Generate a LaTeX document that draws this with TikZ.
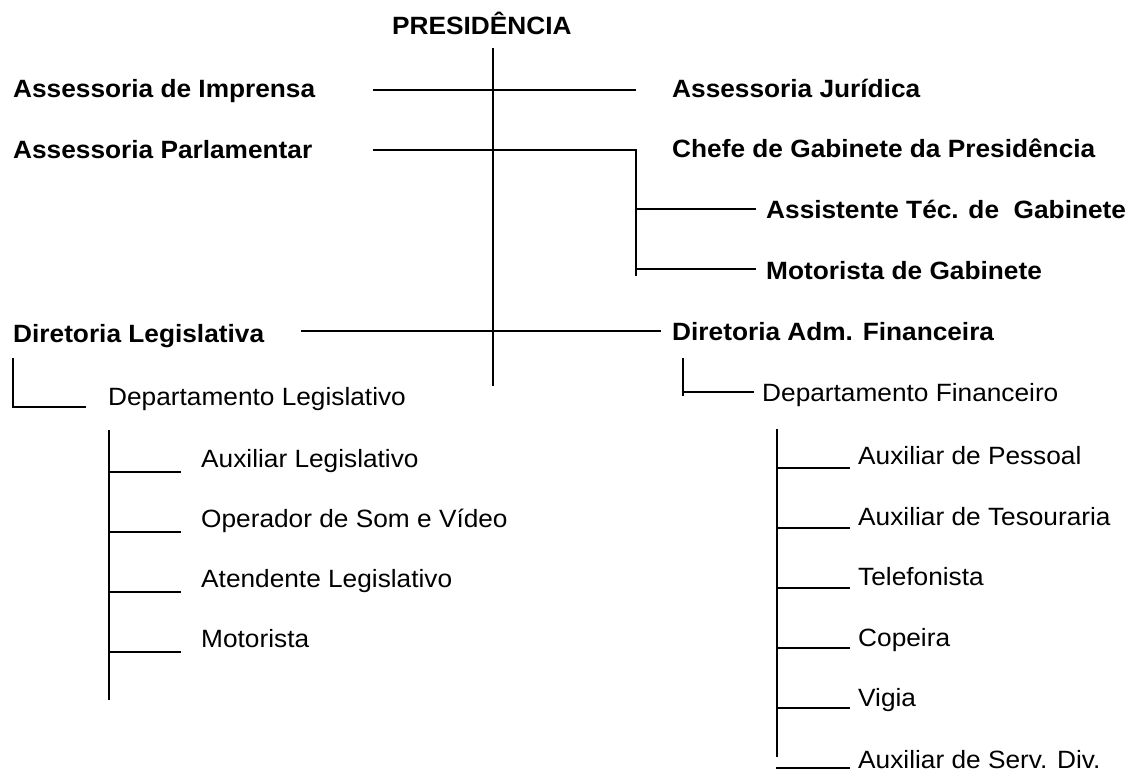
\documentclass[tikz,border=0pt]{standalone}
\usepackage{fontspec}
\setmainfont{Liberation Sans}[FakeStretch=1.05]
\tikzset{
  dir/.style={anchor=base west,inner sep=0pt,font=\fontsize{25}{30}\selectfont\bfseries},
  cargo/.style={anchor=base west,inner sep=0pt,font=\fontsize{25}{30}\selectfont},
  traco/.style={line width=1.4pt}
}
\begin{document}
\begin{tikzpicture}[x=1pt,y=-1pt]
\useasboundingbox (0,0) rectangle (1132,774);
\node[dir] (pres) at (392,34) {PRESIDÊNCIA};
\node[dir] (imp) at (13,97) {Assessoria de Imprensa};
\node[dir] (jur) at (672,97) {Assessoria Jurídica};
\node[dir] (parl) at (13,158) {Assessoria Parlamentar};
\node[dir] (chefe) at (672,157) {Chefe de Gabinete da Presidência};
\node[dir] (assist) at (766,218) {Assistente Téc. de\ \ Gabinete};
\node[dir] (motgab) at (766,279) {Motorista de Gabinete};
\node[dir] (dleg) at (13,342) {Diretoria Legislativa};
\node[dir] (dadm) at (672,340) {Diretoria Adm. Financeira};
\node[cargo] (depleg) at (108,405) {Departamento Legislativo};
\node[cargo] (depfin) at (762,401) {Departamento Financeiro};
% legislativo
\node[cargo] (auxleg) at (201,467) {Auxiliar Legislativo};
\node[cargo] (oper) at (201,527) {Operador de Som e Vídeo};
\node[cargo] (atend) at (201,587) {Atendente Legislativo};
\node[cargo] (mot) at (201,647) {Motorista};
% financeiro
\node[cargo] (pessoal) at (858,464) {Auxiliar de Pessoal};
\node[cargo] (tes) at (858,525) {Auxiliar de Tesouraria};
\node[cargo] (tel) at (858,585) {Telefonista};
\node[cargo] (cop) at (858,646) {Copeira};
\node[cargo] (vig) at (858,706) {Vigia};
\node[cargo] (serv) at (858,768) {Auxiliar de Serv. Div.};
% linhas
\coordinate (p0) at (493,48);
\coordinate (p1) at (493,386);
\draw[traco] (p0) -- (p1);
\coordinate (a0) at (373,90);
\coordinate (a1) at (636,90);
\draw[traco] (a0) -- (a1);
\coordinate (b0) at (373,150);
\coordinate (b1) at (636,150);
\coordinate (b2) at (636,276);
\draw[traco] (b0) -- (b1) -- (b2);
\coordinate (c0) at (636,209);
\coordinate (c1) at (756,209);
\draw[traco] (c0) -- (c1);
\coordinate (d0) at (636,269);
\coordinate (d1) at (756,269);
\draw[traco] (d0) -- (d1);
\coordinate (e0) at (301,331);
\coordinate (e1) at (661,331);
\draw[traco] (e0) -- (e1);
\coordinate (f0) at (13,358);
\coordinate (f1) at (13,407);
\coordinate (f2) at (86,407);
\draw[traco] (f0) -- (f1) -- (f2);
\coordinate (g0) at (683,358);
\coordinate (g1) at (683,396);
\coordinate (g2) at (683,392);
\coordinate (g3) at (754,392);
\draw[traco] (g0) -- (g1);
\draw[traco] (g2) -- (g3);
\coordinate (h0) at (109,430);
\coordinate (h1) at (109,700);
\draw[traco] (h0) -- (h1);
\coordinate (h2) at (109,472);
\coordinate (h3) at (181,472);
\draw[traco] (h2) -- (h3);
\coordinate (h4) at (109,532);
\coordinate (h5) at (181,532);
\draw[traco] (h4) -- (h5);
\coordinate (h6) at (109,592);
\coordinate (h7) at (181,592);
\draw[traco] (h6) -- (h7);
\coordinate (h8) at (109,652);
\coordinate (h9) at (181,652);
\draw[traco] (h8) -- (h9);
\coordinate (k0) at (777,429);
\coordinate (k1) at (777,757);
\draw[traco] (k0) -- (k1);
\coordinate (k2) at (777,468);
\coordinate (k3) at (850,468);
\draw[traco] (k2) -- (k3);
\coordinate (k4) at (777,528);
\coordinate (k5) at (850,528);
\draw[traco] (k4) -- (k5);
\coordinate (k6) at (777,588);
\coordinate (k7) at (850,588);
\draw[traco] (k6) -- (k7);
\coordinate (k8) at (777,648);
\coordinate (k9) at (850,648);
\draw[traco] (k8) -- (k9);
\coordinate (k10) at (777,708);
\coordinate (k11) at (850,708);
\draw[traco] (k10) -- (k11);
\coordinate (k12) at (776,768);
\coordinate (k13) at (850,768);
\draw[traco] (k12) -- (k13);
\end{tikzpicture}
\end{document}
